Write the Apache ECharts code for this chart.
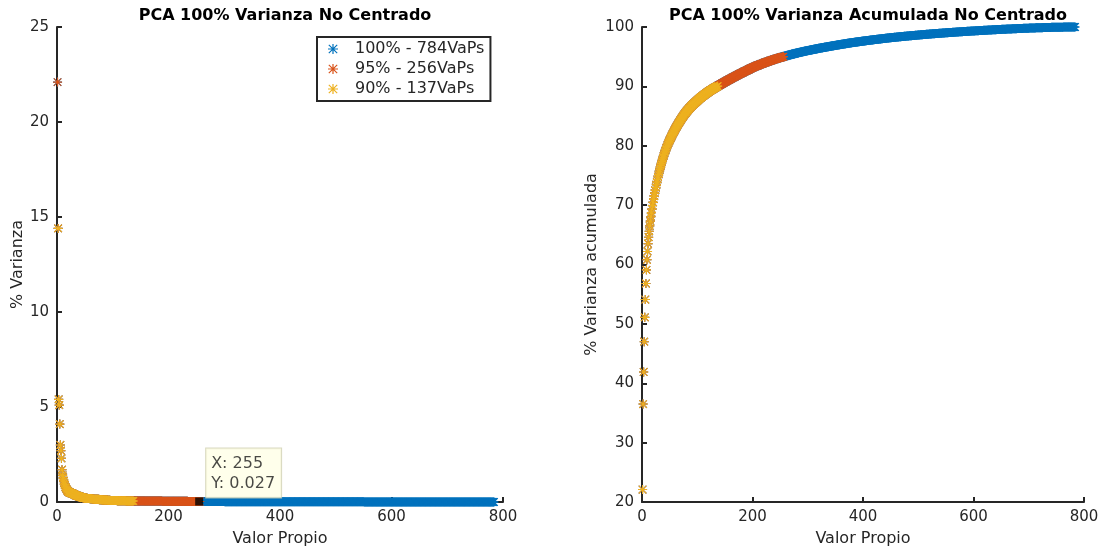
<!DOCTYPE html>
<html>
<head>
<meta charset="utf-8">
<script src="https://cdn.jsdelivr.net/npm/echarts@6/dist/echarts.min.js"></script>
<style>
  html, body { margin: 0; padding: 0; background: #fff; }
  #chart { width: 1109px; height: 552px; }
</style>
</head>
<body>
<div id="chart"></div>
<script>
// % varianza de cada valor propio
const headVariance = [
  22.1, 14.4, 5.4, 5.1, 4.1, 3.0, 2.7, 2.3, 1.7, 1.4,
  1.3, 1.1, 1.0, 0.9, 0.8, 0.75, 0.68, 0.62, 0.58, 0.55,
  0.53, 0.51, 0.50, 0.48, 0.47, 0.46, 0.45, 0.44, 0.43, 0.42,
  0.40, 0.38, 0.36, 0.35, 0.34, 0.33, 0.32, 0.31, 0.30, 0.29,
  0.28, 0.27, 0.26, 0.25, 0.24, 0.23, 0.22, 0.21, 0.21, 0.20
];
// cola (VaPs 51..784) como [valor, repeticiones]
const tailRuns = [
  [0.20, 4], [0.18, 4], [0.17, 4], [0.16, 4], [0.15, 4],
  [0.14, 5], [0.125, 5], [0.11, 5], [0.10, 5], [0.09, 5], [0.085, 5],
  [0.080, 7], [0.072, 8], [0.065, 8], [0.058, 7], [0.054, 7],
  [0.054, 13], [0.051, 13], [0.049, 13], [0.047, 12], [0.045, 12],
  [0.040, 10], [0.036, 12], [0.033, 12], [0.030, 11], [0.027, 11],
  [0.026, 11], [0.024, 11], [0.022, 11], [0.020, 11],
  [0.019, 20], [0.017, 20], [0.016, 20], [0.015, 20], [0.013, 20],
  [0.012, 25], [0.011, 25], [0.0095, 25], [0.0085, 25],
  [0.008, 25], [0.007, 25], [0.0065, 25], [0.006, 25],
  [0.0055, 25], [0.005, 25], [0.0045, 25], [0.004, 25],
  [0.0035, 20], [0.0028, 20], [0.002, 20], [0.0012, 20], [0.0005, 4]
];
const seriesNames = ['100% - 784VaPs', '95% - 256VaPs', '90% - 137VaPs'];
const seriesCounts = [784, 256, 137];
const seriesColors = ['#0072BD', '#D95319', '#EDB120'];
const tipPoint = [255, 0.027];

const variance = headVariance.slice();
tailRuns.forEach(([v, n]) => { for (let k = 0; k < n; k++) variance.push(v); });

// varianza acumulada = suma corrida de la varianza
const cumulative = [];
let acc = 0;
variance.forEach(v => { acc += v; cumulative.push(+acc.toFixed(4)); });

const asPoints = arr => arr.map((v, i) => [i + 1, v]);
const varPts = asPoints(variance);
const cumPts = asPoints(cumulative);

const star = 'path://M4.4,0L5.6,0L5.6,10L4.4,10Z M0,4.4L10,4.4L10,5.6L0,5.6Z M1.2,0.4L9.6,8.8L8.8,9.6L0.4,1.2Z M8.8,0.4L9.6,1.2L1.2,9.6L0.4,8.8Z';
const FONT = 'DejaVu Sans';
const INK = '#262626';

function axisBase(min, max, interval, name, nameGap) {
  return {
    type: 'value', min, max, interval, name,
    nameLocation: 'middle', nameGap,
    nameTextStyle: { color: INK, fontSize: 16, fontFamily: FONT },
    axisLine: { show: true, onZero: false, lineStyle: { color: INK, width: 2 } },
    axisTick: { show: true, inside: true, length: 5, lineStyle: { color: INK, width: 2 } },
    axisLabel: { color: INK, fontSize: 15, fontFamily: FONT, margin: 8 },
    splitLine: { show: false }
  };
}

function scatter(name, color, data, xi, z) {
  return {
    type: 'scatter', name, data,
    xAxisIndex: xi, yAxisIndex: xi,
    symbol: star, symbolSize: 9,
    itemStyle: { color, opacity: 1 },
    emphasis: { disabled: true },
    z
  };
}

const series = [];
// izquierda: % varianza (el primer VaP queda naranja en la original)
series.push(scatter(seriesNames[0], seriesColors[0], varPts.slice(0, seriesCounts[0]), 0, 2));
series.push(scatter(seriesNames[1], seriesColors[1], varPts.slice(0, seriesCounts[1]), 0, 3));
series.push(scatter(seriesNames[2], seriesColors[2], varPts.slice(1, seriesCounts[2]), 0, 4));
// derecha: acumulada
series.push(scatter(seriesNames[0], seriesColors[0], cumPts.slice(0, seriesCounts[0]), 1, 2));
series.push(scatter(seriesNames[1], seriesColors[1], cumPts.slice(0, seriesCounts[1]), 1, 3));
series.push(scatter(seriesNames[2], seriesColors[2], cumPts.slice(0, seriesCounts[2]), 1, 4));
// data tip
series.push({
  type: 'scatter', data: [tipPoint], xAxisIndex: 0, yAxisIndex: 0,
  symbol: 'rect', symbolSize: 8, z: 10,
  itemStyle: { color: '#000' },
  label: {
    show: true,
    position: [11, -49],
    formatter: () => 'X: ' + tipPoint[0] + '\nY: ' + tipPoint[1],
    color: '#1a1a1a', fontSize: 16, fontFamily: FONT, lineHeight: 20,
    backgroundColor: '#FFFFE6', borderColor: '#CFCFB0', borderWidth: 1,
    padding: [5, 6, 4, 5]
  }
});

const chart = echarts.init(document.getElementById('chart'), null, { renderer: 'canvas' });
chart.setOption({
  animation: false,
  backgroundColor: '#fff',
  title: [
    { text: 'PCA 100% Varianza No Centrado', left: 280, top: 3, textAlign: 'center',
      textStyle: { fontSize: 16, fontWeight: 'bold', color: '#000', fontFamily: FONT } },
    { text: 'PCA 100% Varianza Acumulada No Centrado', left: 863, top: 3, textAlign: 'center',
      textStyle: { fontSize: 16, fontWeight: 'bold', color: '#000', fontFamily: FONT } }
  ],
  legend: {
    data: seriesNames,
    orient: 'vertical', left: 317, top: 37,
    padding: [4, 6, 4, 11], itemGap: 4,
    itemWidth: 10, itemHeight: 10,
    icon: star,
    backgroundColor: '#fff', borderColor: INK, borderWidth: 2, borderRadius: 0,
    textStyle: { color: INK, fontSize: 16, fontFamily: FONT, padding: [0, 0, 0, 12] },
    selectedMode: false
  },
  grid: [
    { left: 57, right: 606, top: 27, bottom: 49 },
    { left: 642, right: 25, top: 27, bottom: 49 }
  ],
  xAxis: [
    Object.assign(axisBase(0, 800, 200, 'Valor Propio', 29), { gridIndex: 0 }),
    Object.assign(axisBase(0, 800, 200, 'Valor Propio', 29), { gridIndex: 1 })
  ],
  yAxis: [
    Object.assign(axisBase(0, 25, 5, '% Varianza', 31), { gridIndex: 0 }),
    Object.assign(axisBase(20, 100, 10, '% Varianza acumulada', 42), { gridIndex: 1 })
  ],
  series
});
</script>
</body>
</html>
